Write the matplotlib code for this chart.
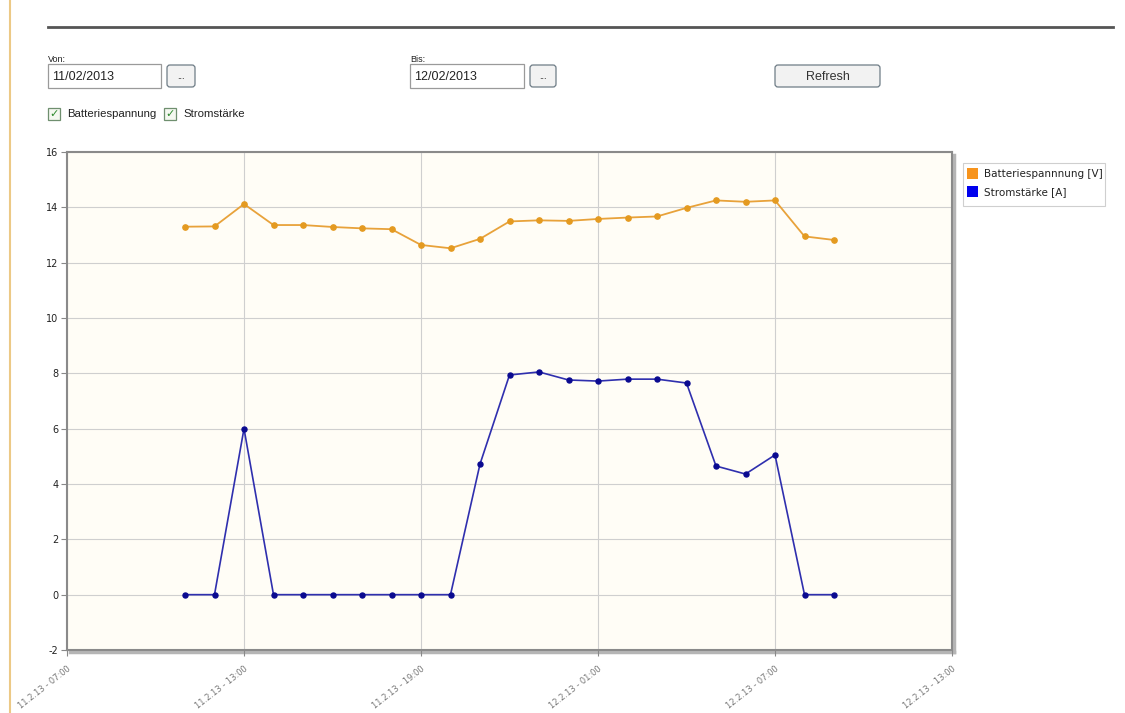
import numpy as np
import pandas as pd
import matplotlib
matplotlib.use("Agg")
import matplotlib.pyplot as plt
from matplotlib.patches import Rectangle, FancyBboxPatch

# measurement times (hourly readings)
times = ["2013-02-11 11:00", "2013-02-11 12:00", "2013-02-11 13:00", "2013-02-11 14:00",
         "2013-02-11 15:00", "2013-02-11 16:00", "2013-02-11 17:00", "2013-02-11 18:00",
         "2013-02-11 19:00", "2013-02-11 20:00", "2013-02-11 21:00", "2013-02-11 22:00",
         "2013-02-11 23:00", "2013-02-12 00:00", "2013-02-12 01:00", "2013-02-12 02:00",
         "2013-02-12 03:00", "2013-02-12 04:00", "2013-02-12 05:00", "2013-02-12 06:00",
         "2013-02-12 07:00", "2013-02-12 08:00", "2013-02-12 09:00"]

spannung = [13.30, 13.31, 14.12, 13.36, 13.36, 13.29, 13.24, 13.21, 12.64, 12.52,
            12.86, 13.49, 13.53, 13.51, 13.58, 13.63, 13.67, 13.98, 14.25, 14.20,
            14.25, 12.95, 12.82]

strom = [0.0, 0.0, 6.0, 0.0, 0.0, 0.0, 0.0, 0.0, 0.0, 0.0,
         4.72, 7.94, 8.05, 7.76, 7.72, 7.79, 7.79, 7.65, 4.65, 4.36,
         5.05, 0.0, 0.0]

tick_times = ["2013-02-11 07:00", "2013-02-11 13:00", "2013-02-11 19:00",
              "2013-02-12 01:00", "2013-02-12 07:00", "2013-02-12 13:00"]
tick_labels = ["11.2.13 - 07:00", "11.2.13 - 13:00", "11.2.13 - 19:00",
               "12.2.13 - 01:00", "12.2.13 - 07:00", "12.2.13 - 13:00"]

legend_labels = ["Batteriespannnung [V]", "Stromstärke [A]"]

W, H = 1125, 713
fig = plt.figure(figsize=(W / 100, H / 100), dpi=100)
fig.patch.set_facecolor("white")

narrow = ["Liberation Sans", "DejaVu Sans"]

# page / form layer in pixel coordinates
bg = fig.add_axes([0, 0, 1, 1], zorder=0)
bg.set_xlim(0, W)
bg.set_ylim(H, 0)
bg.axis("off")

bg.plot([9.5, 9.5], [0, H], color="#ecc986", lw=1.5)
bg.plot([48, 1113], [27, 27], color="#555555", lw=2)

def textbox(x0, x1, label, value):
    bg.text(x0, 59, label, fontsize=6.5, family=narrow, va="center", ha="left", color="#222")
    bg.add_patch(Rectangle((x0, 64), x1 - x0, 24, facecolor="white", edgecolor="#9a9a9a", lw=0.9))
    bg.text(x0 + 4, 76.5, value, fontsize=9, family=narrow, va="center", ha="left", color="#222")

def button(x0, x1, text, fs):
    bg.add_patch(FancyBboxPatch((x0, 65), x1 - x0, 22, boxstyle="round,pad=0,rounding_size=3",
                                facecolor="#f2f2f2", edgecolor="#6e7c86", lw=0.9))
    bg.text((x0 + x1) / 2, 76.5, text, fontsize=fs, family=narrow, va="center", ha="center", color="#333")

textbox(48, 161, "Von:", "11/02/2013")
button(167, 195, "...", 6.5)
textbox(410, 524, "Bis:", "12/02/2013")
button(530, 556, "...", 6.5)
button(775, 880, "Refresh", 9)

def checkbox(x0, label):
    bg.add_patch(Rectangle((x0, 108), 12, 12, facecolor="#f4f8f0", edgecolor="#6f8f6f", lw=0.9))
    bg.text(x0 + 6, 114.5, "\u2713", fontsize=8, color="#2d8a2d", ha="center", va="center",
            family=["DejaVu Sans"], fontweight="bold")
    bg.text(x0 + 19, 114, label, fontsize=8.2, family=narrow, va="center", ha="left", color="#222")

checkbox(48, "Batteriespannung")
checkbox(164, "Stromstärke")

# chart frame shadow
bg.plot([954, 954], [155, 652], color="#b5b5b5", lw=2.5)
bg.plot([70, 954], [652, 652], color="#b5b5b5", lw=2.5)

# legend
orange = "#e8a23a"
blue = "#2f2fae"
bg.add_patch(Rectangle((963, 163), 142, 43, facecolor="white", edgecolor="#cfcfcf", lw=0.8))
for i, (lab, c) in enumerate(zip(legend_labels, ["#f7941d", "#0000ee"])):
    yy = 174 + i * 18
    bg.add_patch(Rectangle((967, yy - 6), 11, 11, facecolor=c, edgecolor="none"))
    bg.text(984, yy, lab, fontsize=7.5, va="center", ha="left", color="#222", family=["DejaVu Sans"])

# chart
ax = fig.add_axes([67 / W, 1 - 650 / H, (952 - 67) / W, (650 - 152) / H], zorder=1)
ax.set_facecolor("#fffdf6")

t = pd.to_datetime(times)
ax.plot(t, spannung, color=orange, lw=1.3, marker="o", ms=3.8,
        markerfacecolor="#e49a20", markeredgecolor="#e49a20")
ax.plot(t, strom, color=blue, lw=1.2, marker="o", ms=3.6,
        markerfacecolor="#0a0a90", markeredgecolor="#0a0a90")

tt = pd.to_datetime(tick_times)
ax.set_xlim(tt[0], tt[-1])
ax.set_ylim(-2, 16)
ax.set_xticks(tt)
ax.set_xticklabels(tick_labels, rotation=38, ha="right", va="top", rotation_mode="anchor",
                   fontsize=6, color="#777777", family=["DejaVu Sans"])
ax.set_yticks(np.arange(-2, 17, 2))
ax.set_yticklabels([str(v) for v in range(-2, 17, 2)], fontsize=7, color="#222",
                   family=["DejaVu Sans"])
ax.grid(True, color="#cfcfcf", lw=0.8)
ax.set_axisbelow(True)
ax.tick_params(axis="both", length=4, width=0.8, color="#888888", pad=2)
ax.tick_params(axis="x", pad=6)
for s in ax.spines.values():
    s.set_color("#8a8a8a")
    s.set_linewidth(1.5)

fig.savefig("out.png", dpi=100)
